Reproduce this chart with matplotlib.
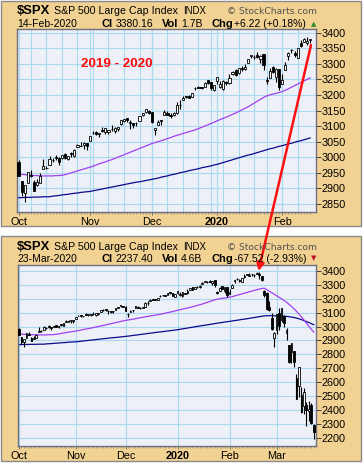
import numpy as np
import pandas as pd
import matplotlib
matplotlib.use('Agg')
import matplotlib.pyplot as plt
from matplotlib.patches import Rectangle

# trading calendar Oct 1 2019 - Mar 23 2020
holidays = ['2019-11-28', '2019-12-25', '2020-01-01', '2020-01-20', '2020-02-17']
dates = pd.bdate_range('2019-10-01', '2020-03-23')
dates = dates[~dates.isin(pd.to_datetime(holidays))]

opens = [2983.7, 2924.8, 2885.4, 2918.6, 2944.2, 2920.4, 2911.1, 2918.6, 2963.1, 2965.8,
         2973.6, 2989.7, 3000.8, 2996.8, 2996.5, 3010.7, 2994.0, 3014.8, 3003.3, 3032.1,
         3035.4, 3039.7, 3046.9, 3050.7, 3079.0, 3080.8, 3075.1, 3087.0, 3081.3, 3080.3,
         3089.3, 3084.2, 3090.8, 3107.9, 3117.9, 3127.5, 3114.7, 3108.5, 3111.4, 3117.4,
         3134.9, 3145.5, 3147.2, 3143.9, 3087.4, 3103.5, 3119.2, 3134.6, 3141.9, 3135.4,
         3135.8, 3141.2, 3166.7, 3183.6, 3195.4, 3195.2, 3192.3, 3223.3, 3226.1, 3225.5,
         3227.2, 3247.2, 3240.1, 3215.2, 3244.7, 3226.4, 3217.6, 3241.9, 3238.6, 3266.0,
         3281.8, 3271.1, 3285.4, 3282.3, 3303.0, 3323.7, 3321.0, 3330.0, 3315.8, 3333.1,
         3247.2, 3255.4, 3289.5, 3256.5, 3282.3, 3235.7, 3280.6, 3324.9, 3344.9, 3335.5,
         3318.3, 3365.9, 3370.5, 3365.9, 3378.1, 3369.0, 3380.4, 3380.5, 3360.5, 3257.6,
         3238.9, 3139.9, 3062.5, 2916.9, 2974.3, 3096.5, 3045.8, 3075.7, 2954.2, 2863.9,
         2813.5, 2825.6, 2630.9, 2570.0, 2508.6, 2425.7, 2436.5, 2393.5, 2431.9, 2290.7]
highs = [2992.5, 2924.8, 2911.1, 2953.7, 2959.8, 2925.5, 2929.3, 2948.5, 2993.3, 2972.8,
         3003.3, 2997.5, 3008.3, 3000.0, 3007.3, 3014.6, 3004.8, 3016.1, 3027.4, 3044.1,
         3047.9, 3050.1, 3046.9, 3067.0, 3085.2, 3084.0, 3078.3, 3097.8, 3093.1, 3088.3,
         3102.6, 3098.1, 3098.2, 3120.5, 3124.2, 3127.6, 3119.0, 3110.1, 3112.9, 3133.8,
         3142.7, 3154.3, 3150.3, 3144.3, 3095.0, 3119.4, 3119.5, 3150.6, 3148.9, 3142.1,
         3144.0, 3176.3, 3182.7, 3197.7, 3198.2, 3198.5, 3205.5, 3225.7, 3227.8, 3226.4,
         3240.1, 3247.9, 3240.9, 3231.7, 3258.1, 3246.2, 3246.8, 3244.9, 3267.1, 3275.6,
         3283.0, 3288.1, 3294.3, 3298.7, 3317.1, 3329.9, 3329.8, 3337.8, 3326.9, 3333.2,
         3258.9, 3285.8, 3293.5, 3285.9, 3282.3, 3268.4, 3306.9, 3337.6, 3348.0, 3341.4,
         3352.3, 3375.6, 3381.5, 3385.1, 3380.7, 3375.0, 3393.5, 3389.2, 3360.8, 3259.8,
         3247.0, 3182.5, 3097.1, 2959.7, 3091.0, 3136.7, 3131.0, 3083.0, 2985.9, 2863.9,
         2882.6, 2825.6, 2661.0, 2711.3, 2563.0, 2553.9, 2453.6, 2467.0, 2453.0, 2300.7]
lows = [2938.7, 2874.9, 2855.9, 2918.6, 2935.7, 2892.7, 2907.4, 2917.1, 2963.1, 2962.9,
        2973.6, 2985.2, 2991.8, 2976.3, 2995.4, 2995.0, 2991.2, 3000.4, 3001.9, 3032.1,
        3034.8, 3026.0, 3023.2, 3050.7, 3074.9, 3072.2, 3065.9, 3080.2, 3073.6, 3075.8,
        3084.7, 3078.8, 3083.3, 3104.6, 3112.1, 3113.5, 3091.4, 3094.6, 3099.3, 3117.4,
        3131.0, 3143.4, 3139.3, 3110.8, 3070.3, 3102.5, 3103.8, 3134.6, 3135.5, 3126.1,
        3133.2, 3138.5, 3156.5, 3183.6, 3191.0, 3191.1, 3192.3, 3216.0, 3222.3, 3220.5,
        3227.2, 3234.4, 3216.6, 3212.0, 3235.5, 3222.3, 3214.6, 3232.4, 3236.7, 3263.7,
        3260.9, 3268.4, 3277.2, 3280.7, 3302.8, 3318.9, 3316.6, 3320.0, 3301.9, 3281.5,
        3234.5, 3253.2, 3271.9, 3242.8, 3214.7, 3235.7, 3280.6, 3313.8, 3334.4, 3322.1,
        3317.8, 3352.7, 3369.7, 3360.5, 3366.2, 3355.6, 3378.8, 3341.0, 3328.5, 3214.7,
        3118.8, 3109.0, 2977.4, 2855.8, 2945.2, 2976.6, 3034.4, 2999.8, 2901.5, 2734.4,
        2734.0, 2707.2, 2478.9, 2492.4, 2380.9, 2367.0, 2280.5, 2319.8, 2295.6, 2191.9]
closes = [2940.3, 2887.6, 2910.6, 2952.0, 2938.8, 2893.1, 2919.4, 2938.1, 2970.3, 2966.2,
          2995.7, 2989.7, 2998.0, 2986.2, 3006.7, 2996.0, 3004.5, 3010.3, 3022.6, 3039.4,
          3036.9, 3046.8, 3037.6, 3066.9, 3078.3, 3074.6, 3076.8, 3085.2, 3093.1, 3087.0,
          3091.8, 3094.0, 3096.6, 3120.5, 3122.0, 3120.2, 3108.5, 3103.5, 3110.3, 3133.6,
          3140.5, 3153.6, 3141.0, 3113.9, 3093.2, 3112.8, 3117.4, 3145.9, 3136.0, 3132.5,
          3141.6, 3168.6, 3168.8, 3191.5, 3192.5, 3191.1, 3205.4, 3221.2, 3224.0, 3223.4,
          3239.9, 3240.0, 3221.3, 3230.8, 3257.9, 3234.9, 3246.3, 3237.2, 3253.1, 3274.7,
          3265.4, 3288.1, 3283.2, 3289.3, 3316.8, 3329.6, 3320.8, 3321.8, 3325.5, 3295.5,
          3243.6, 3276.2, 3273.4, 3283.7, 3225.5, 3248.9, 3297.6, 3334.7, 3345.8, 3327.7,
          3352.1, 3357.8, 3379.5, 3373.9, 3380.2, 3370.3, 3386.2, 3373.2, 3337.8, 3225.9,
          3128.2, 3116.4, 2978.8, 2954.2, 3090.2, 3003.4, 3130.1, 3023.9, 2972.4, 2746.6,
          2882.2, 2741.4, 2480.6, 2711.0, 2386.1, 2529.2, 2398.1, 2409.4, 2304.9, 2237.4]
ma50 = [2946, 2945, 2944, 2943, 2942, 2941, 2941, 2940, 2940, 2940,
        2940, 2940, 2941, 2941, 2942, 2944, 2947, 2950, 2953, 2956,
        2959, 2962, 2965, 2968, 2971, 2975, 2979, 2982, 2985, 2989,
        2992, 2996, 3000, 3004, 3008, 3012, 3016, 3020, 3024, 3028,
        3032, 3036, 3040, 3044, 3047, 3050, 3053, 3056, 3060, 3063,
        3067, 3070, 3073, 3076, 3079, 3082, 3085, 3088, 3092, 3096,
        3100, 3104, 3108, 3112, 3117, 3121, 3125, 3129, 3133, 3138,
        3142, 3147, 3152, 3157, 3162, 3168, 3174, 3180, 3186, 3192,
        3197, 3200, 3203, 3205, 3208, 3211, 3215, 3220, 3225, 3230,
        3235, 3240, 3245, 3250, 3255, 3260, 3265, 3270, 3274, 3276,
        3266, 3255, 3244, 3233, 3222, 3211, 3200, 3188, 3175, 3160,
        3145, 3128, 3110, 3090, 3070, 3048, 3025, 3002, 2980, 2960]
ma200 = [2870, 2870, 2871, 2871, 2871, 2872, 2872, 2872, 2873, 2873,
         2873, 2875, 2876, 2877, 2879, 2880, 2881, 2883, 2884, 2885,
         2887, 2888, 2889, 2890, 2892, 2894, 2896, 2898, 2900, 2902,
         2904, 2906, 2908, 2910, 2912, 2914, 2916, 2918, 2920, 2921,
         2923, 2925, 2927, 2929, 2931, 2933, 2936, 2938, 2940, 2943,
         2945, 2947, 2950, 2952, 2954, 2957, 2959, 2961, 2963, 2966,
         2968, 2970, 2972, 2975, 2977, 2980, 2983, 2986, 2989, 2992,
         2995, 2998, 3001, 3004, 3007, 3009, 3012, 3015, 3018, 3021,
         3024, 3027, 3029, 3032, 3035, 3037, 3040, 3043, 3045, 3048,
         3051, 3053, 3056, 3059, 3062, 3065, 3068, 3071, 3074, 3076,
         3078, 3078, 3078, 3077, 3077, 3076, 3075, 3074, 3073, 3071,
         3068, 3065, 3061, 3056, 3050, 3043, 3036, 3029, 3021, 3013]

W, H = 363, 465
BEIGE = '#F2D293'
PLOTBG = '#EEF0F8'
GRID = '#A9D9EE'


def px(x, y):
    return x / W, 1 - y / H


fig = plt.figure(figsize=(W / 100, H / 100), dpi=100)
plt.rcParams['font.family'] = ['Liberation Sans', 'DejaVu Sans']

# panel backgrounds
for top, bot in [(1, 226), (236, 461)]:
    x0, y0 = px(1, bot)
    fig.patches.append(Rectangle((x0, y0), 360 / W, (bot - top) / H, transform=fig.transFigure,
                                 facecolor=BEIGE, edgecolor='#8a8a8a', lw=1, zorder=-5))


def txt(x, y, s, **kw):
    fig.text(*px(x, y), s, va='baseline', ha='left', **kw)


def header(y1, y2, date, cl, vol, chg, up):
    txt(17, y1, '$SPX', fontsize=9.4, fontweight='bold')
    txt(54, y1, 'S&P 500 Large Cap Index', fontsize=7.7)
    txt(183, y1, 'INDX', fontsize=6.9)
    txt(227, y1, '\u00a9 StockCharts.com', fontsize=6.6, family='DejaVu Sans', color='#505050')
    txt(17, y2, date, fontsize=7.5)
    txt(102, y2, 'Cl', fontsize=8, fontweight='bold')
    txt(115.5, y2, cl, fontsize=7.5)
    txt(162, y2, 'Vol', fontsize=8, fontweight='bold')
    txt(181, y2, vol, fontsize=7.5)
    txt(211, y2, 'Chg', fontsize=8, fontweight='bold')
    txt(234.5, y2, chg, fontsize=7.5)
    txt(311, y2 - 1, '\u25b2' if up else '\u25bc', fontsize=5, family='DejaVu Sans',
        color='#2E8B2E' if up else '#C0102A')


header(14, 26.7, '14-Feb-2020', '3380.16', '1.7B', '+6.22 (+0.18%)', True)
header(249.5, 261.5, '23-Mar-2020', '2237.40', '4.6B', '-67.52 (-2.93%)', False)


def panel(box, n, ylim, yticks, weekly):
    l, t, r, b = box
    ax = fig.add_axes([l / W, 1 - b / H, (r - l) / W, (b - t) / H])
    ax.set_facecolor(PLOTBG)
    d = dates[:n]
    idx = np.arange(n)
    month_pos = [i for i in range(n) if i == 0 or d[i].month != d[i - 1].month]
    month_lab = ['2020' if d[i].month == 1 else d[i].strftime('%b') for i in month_pos]
    grid_x = list(month_pos)
    if weekly:
        grid_x += [i for i in range(1, n) if d[i].weekday() < d[i - 1].weekday()]
    for gx in grid_x:
        ax.axvline(gx, color=GRID, lw=0.8, zorder=1)
    for gy in yticks:
        ax.axhline(gy, color=GRID, lw=0.8, zorder=1)

    ax.plot(idx, ma200[:n], color='#0A0A8C', lw=0.9, zorder=2)
    ax.plot(idx, ma50[:n], color='#A040F0', lw=0.9, zorder=2)

    o = np.array(opens[:n]); h = np.array(highs[:n])
    lo = np.array(lows[:n]); c = np.array(closes[:n])
    ax.vlines(idx, lo, h, color='black', lw=0.8, zorder=3)
    face = np.where(c > o, 'white', 'black')
    ax.bar(idx, np.abs(c - o), bottom=np.minimum(o, c), width=0.7, color=face,
           edgecolor='black', linewidth=0.6, zorder=4)

    ax.set_xlim(-0.4, n + 0.9 if weekly else n - 0.1)
    ax.set_ylim(*ylim)
    ax.set_yticks(yticks)
    ax.yaxis.tick_right()
    ax.tick_params(axis='y', direction='out', length=3.5, width=0.7, pad=0.5,
                   labelsize=7.8, color='#404040')
    ax.set_xticks(month_pos)
    ax.set_xticklabels(month_lab)
    for lab in ax.get_xticklabels():
        if lab.get_text() == '2020':
            lab.set_fontweight('bold')
    ax.set_xticks(idx, minor=True)
    ax.tick_params(axis='x', which='major', direction='out', length=2.5, width=0.6,
                   pad=1.5, labelsize=7.8, color='#606060')
    ax.tick_params(axis='x', which='minor', direction='out', length=1.5, width=0.5,
                   color='#808080')
    for s in ax.spines.values():
        s.set_color('#6E7080')
        s.set_linewidth(1)
    return ax


ax1 = panel((17.3, 29.3, 316, 211.7), 95, (2825, 3411), list(range(2850, 3401, 50)), True)
ax2 = panel((18, 265, 316, 445.7), 120, (2142, 3443), list(range(2200, 3401, 100)), False)

fig.text(*px(116.5, 67), '2019 - 2020', fontsize=9.6, fontweight='bold', color='#FF0A0A',
         ha='center', va='baseline')

ax2.annotate('', xy=(258.5, H - 271), xytext=(311, H - 45), xycoords='figure pixels',
             textcoords='figure pixels', annotation_clip=False, zorder=10,
             arrowprops=dict(arrowstyle='-|>', color='#FF1010', lw=1.8, mutation_scale=11,
                             shrinkA=0, shrinkB=0))

fig.savefig('out.png', dpi=100, facecolor='white')
